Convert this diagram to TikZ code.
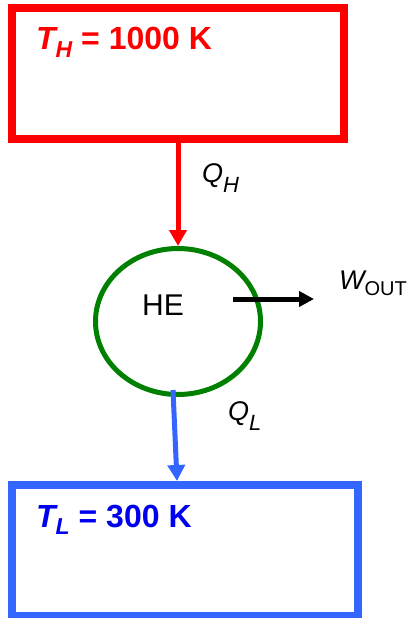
\documentclass[tikz,border=0pt]{standalone}
\usepackage{fontspec}
\setmainfont{Liberation Sans}
\usetikzlibrary{arrows.meta,shapes.geometric,calc}
\definecolor{hotred}{HTML}{FF0000}
\definecolor{heGreen}{HTML}{008000}
\definecolor{coldblue}{HTML}{3366FF}
\definecolor{textblue}{HTML}{0000F0}
\begin{document}
\begin{tikzpicture}[x=1pt,y=-1pt,
  reservoir/.style={draw,rectangle,line width=8pt,inner sep=0pt,minimum width=#1,minimum height=131pt},
  engine/.style={draw=heGreen,ellipse,line width=5pt,inner sep=0pt,minimum width=165pt,minimum height=146pt},
  flow/.style={line width=5pt,-{Triangle[width=17pt,length=16pt]}},
  bigtxt/.style={inner sep=0pt,anchor=base west,font=\fontsize{32}{36}\selectfont\bfseries},
  lbl/.style={inner sep=0pt,anchor=base west,font=\fontsize{27}{30}\selectfont}
]
\useasboundingbox (0,0) rectangle (411,618);
\node[reservoir=332pt,draw=hotred] (hot) at (178,73.5) {};
\node[reservoir=345.5pt,draw=coldblue] (cold) at (184.75,550.5) {};
\node[engine] (he) at (178,321.5) {};
\node[inner sep=0pt,font=\fontsize{30}{32}\selectfont] (helbl) at (163,305) {HE};
\node[bigtxt,text=hotred] (th) at (36,50) {\itshape T\raisebox{-7pt}{\fontsize{23}{23}\selectfont H}\upshape\ = 1000 K};
\node[bigtxt,text=textblue] (tl) at (36,527) {\itshape T\raisebox{-7pt}{\fontsize{23}{23}\selectfont L}\upshape\ = 300 K};
\node[lbl] (qh) at (202,182) {\itshape Q\raisebox{-10pt}{\fontsize{22}{22}\selectfont H}};
\node[lbl] (ql) at (228,420) {\itshape Q\raisebox{-10pt}{\fontsize{22}{22}\selectfont L}};
\node[lbl] (wout) at (339,289) {\itshape W\upshape\raisebox{-6pt}{\fontsize{20}{20}\selectfont OUT}};
\coordinate (wstart) at (233,299);
\coordinate (wend) at (314,299);
\coordinate (qlstart) at (173,390);
\coordinate (qlx) at (177,390);
\draw[flow,draw=hotred,fill=hotred] (hot) -- (he);
\draw[flow,draw=coldblue,fill=coldblue] (qlstart) -- (qlx |- cold.north);
\draw[flow,draw=black,-{Triangle[width=15pt,length=15pt]}] (wstart) -- (wend);
\end{tikzpicture}
\end{document}
